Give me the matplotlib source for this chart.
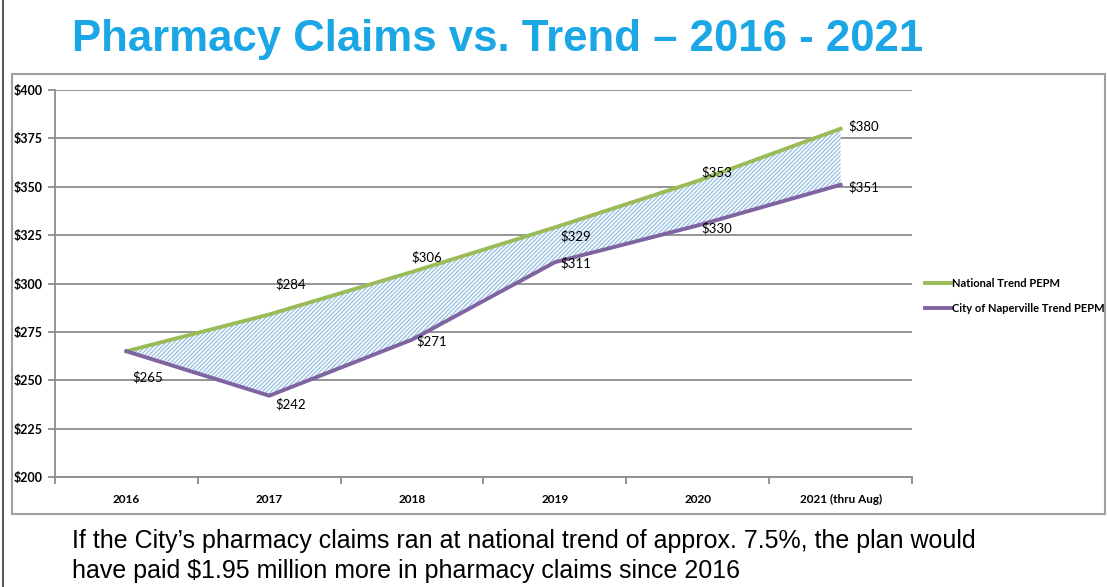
import numpy as np
import matplotlib
matplotlib.use("Agg")
import matplotlib.pyplot as plt
from matplotlib.patches import Rectangle
from matplotlib.lines import Line2D

# ─── data ───────────────────────────────────────────────────────────────────
years    = ["2016", "2017", "2018", "2019", "2020", "2021 (thru Aug)"]
national = [265, 284, 306, 329, 353, 380]
city     = [265, 242, 271, 311, 330, 351]
y_ticks  = [200, 225, 250, 275, 300, 325, 350, 375, 400]

# label offsets in pixels (dx, dy); None = no label
nat_off  = [None, (21, 30), (15, 15), (21, -9), (19, 9), (23, 2)]
city_off = [(21, -26), (21, -9), (20, -2), (21, -1), (19, -3), (23, -2)]

GREEN  = "#9bbb59"
PURPLE = "#8064a2"
TITLE  = "#1ba6e6"
GRID   = "#8c8c8c"

plt.rcParams["font.family"] = ["Lato", "DejaVu Sans"]

fig = plt.figure(figsize=(11.07, 5.87), dpi=100)

# slide edge + chart frame
fig.add_artist(Line2D([3 / 1107, 3 / 1107], [0, 1], color="#333333", lw=1.2))
fig.add_artist(Rectangle((12 / 1107, 1 - 514 / 587), 1093 / 1107, 440 / 587,
                         fill=False, edgecolor="#a0a0a0", lw=1.5))

fig.text(72 / 1107, 1 - 40 / 587, "Pharmacy Claims vs. Trend \u2013 2016 - 2021",
         family=["Liberation Sans", "DejaVu Sans"], fontsize=31.5, fontweight="bold",
         color=TITLE, va="center", ha="left")

ax = fig.add_axes([55 / 1107, 1 - 477 / 587, 857 / 1107, 387 / 587])
x = np.arange(len(years))

ax.fill_between(x, city, national, facecolor="white", edgecolor="#9cc3e2",
                hatch="////////", lw=0)
ax.plot(x, national, color=GREEN, lw=2.8, label="National Trend PEPM", zorder=3)
ax.plot(x, city, color=PURPLE, lw=2.8, label="City of Naperville Trend PEPM", zorder=3)

for i, (v, off) in enumerate(zip(national, nat_off)):
    if off is None:
        continue
    ax.annotate(f"${v}", (x[i], v), xytext=off, textcoords="offset pixels",
                ha="center", va="center", fontsize=9.5, zorder=4)
for i, (v, off) in enumerate(zip(city, city_off)):
    ax.annotate(f"${v}", (x[i], v), xytext=off, textcoords="offset pixels",
                ha="center", va="center", fontsize=9.5, zorder=4)

ax.set_xlim(-0.5, len(years) - 0.5)
ax.set_ylim(200, 400)
ax.set_yticks(y_ticks)
ax.set_yticklabels([f"${t}" for t in y_ticks], fontsize=9, fontweight="bold")
ax.yaxis.grid(True, color=GRID, lw=1.3)
ax.set_axisbelow(True)

ax.set_xticks(np.arange(len(years) + 1) - 0.5)
ax.set_xticklabels([])
ax.set_xticks(x, minor=True)
ax.set_xticklabels(years, minor=True, fontsize=8.5, fontweight="bold")
ax.tick_params(axis="x", which="minor", length=0, pad=12)
ax.tick_params(axis="x", which="major", length=5, color=GRID, width=1.3)
ax.tick_params(axis="y", length=5, color=GRID, width=1.3, pad=4)

for s in ["top", "right"]:
    ax.spines[s].set_visible(False)
for s in ["left", "bottom"]:
    ax.spines[s].set_color(GRID)
    ax.spines[s].set_linewidth(1.3)

leg = ax.legend(loc="center left", bbox_to_anchor=(1.0, 0.468), frameon=False,
                fontsize=8, handlelength=2.3, handletextpad=0.1, labelspacing=1.3,
                borderaxespad=0.8)
for t in leg.get_texts():
    t.set_fontweight("bold")

foot = ["Liberation Sans", "DejaVu Sans"]
fig.text(72 / 1107, 1 - 541 / 587,
         "If the City\u2019s pharmacy claims ran at national trend of approx. 7.5%, the plan would",
         family=foot, fontsize=18, va="center", ha="left")
fig.text(72 / 1107, 1 - 571 / 587,
         "have paid $1.95 million more in pharmacy claims since 2016",
         family=foot, fontsize=18, va="center", ha="left")

fig.savefig("out.png", dpi=100)
